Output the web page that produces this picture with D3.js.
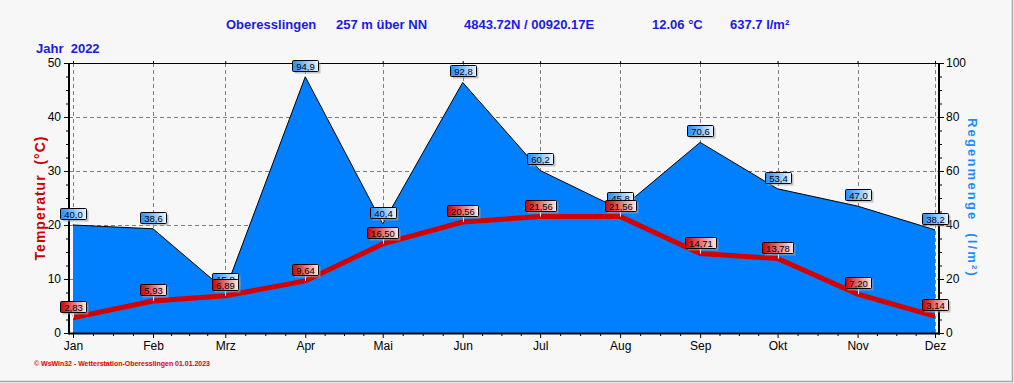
<!DOCTYPE html>
<html>
<head>
<meta charset="utf-8">
<script src="https://cdn.jsdelivr.net/npm/d3@7"></script>
<style>
  body { margin: 0; background: #f7f7f7; }
  svg { display: block; font-family: Arial, "Liberation Sans", sans-serif; }
</style>
</head>
<body>
<div id="chart"></div>
<script>
const months = ['Jan', 'Feb', 'Mrz', 'Apr', 'Mai', 'Jun', 'Jul', 'Aug', 'Sep', 'Okt', 'Nov', 'Dez'];
const rain = [40.0, 38.6, 15.8, 94.9, 40.4, 92.8, 60.2, 45.8, 70.6, 53.4, 47.0, 38.2];
const temp = [2.83, 5.93, 6.89, 9.64, 16.50, 20.56, 21.56, 21.56, 14.71, 13.78, 7.20, 3.14];
const tempTicks = [0, 10, 20, 30, 40, 50];
const rainTicks = [0, 20, 40, 60, 80, 100];
const headerParts = [
  ['Oberesslingen', 226], ['257 m über NN', 336], ['4843.72N / 00920.17E', 464],
  ['12.06 °C', 652], ['637.7 l/m²', 730]
];

const width = 1014, height = 383;
const pLeft = 69, pRight = 939, pTop = 63, pBottom = 333;

const svg = d3.select('#chart').append('svg')
  .attr('width', width).attr('height', height);

svg.append('rect').attr('width', width).attr('height', height).attr('fill', '#f7f7f7');
// outer frame lines (right / bottom)
svg.append('line').attr('x1', 1012.5).attr('x2', 1012.5).attr('y1', 0).attr('y2', 382)
  .attr('stroke', '#a8a8a8').attr('stroke-width', 1.5);
svg.append('line').attr('x1', 0).attr('x2', 1013).attr('y1', 381.5).attr('y2', 381.5)
  .attr('stroke', '#a8a8a8').attr('stroke-width', 1.5);

const dates = months.map((m, i) => new Date(2022, i, 1));
const x = d3.scaleTime().domain([dates[0], dates[11]]).range([73, 935]);
const yT = d3.scaleLinear().domain([0, 50]).range([pBottom, pTop]);
const yR = d3.scaleLinear().domain([0, 100]).range([pBottom, pTop]);

// header
const blue = '#1a1ae6';
svg.append('g').selectAll('text').data(headerParts).join('text')
  .attr('x', d => d[1]).attr('y', 29)
  .attr('font-size', 13).attr('font-weight', 'bold').attr('fill', blue)
  .text(d => d[0]);
svg.append('text').attr('x', 36).attr('y', 53)
  .attr('font-size', 13).attr('font-weight', 'bold').attr('fill', blue)
  .attr('xml:space', 'preserve').text('Jahr  2022');

// grid
const grid = svg.append('g');
grid.selectAll('.hg').data([10, 20, 30, 40]).join('line')
  .attr('x1', pLeft).attr('x2', pRight)
  .attr('y1', d => yT(d) + 0.5).attr('y2', d => yT(d) + 0.5)
  .attr('stroke', '#808080').attr('stroke-dasharray', '4,3');
grid.selectAll('.vg').data(dates).join('line')
  .attr('x1', d => Math.round(x(d)) + 0.5).attr('x2', d => Math.round(x(d)) + 0.5)
  .attr('y1', pTop).attr('y2', pBottom)
  .attr('stroke', '#808080').attr('stroke-dasharray', '4,3');

// rain area
svg.append('path').datum(rain)
  .attr('d', d3.area().x((d, i) => x(dates[i])).y0(pBottom).y1(d => yR(d)))
  .attr('fill', '#0080ff');
svg.append('path').datum(rain)
  .attr('d', d3.line().x((d, i) => x(dates[i])).y(d => yR(d)))
  .attr('fill', 'none').attr('stroke', '#000').attr('stroke-width', 1);

// temperature line
svg.append('path').datum(temp)
  .attr('d', d3.line().x((d, i) => x(dates[i])).y(d => yT(d)))
  .attr('fill', 'none').attr('stroke', '#d40000').attr('stroke-width', 5);

// axes
const minorX = [];
for (let i = 0; i < 11; i++) {
  for (let k = 1; k < 4; k++) minorX.push(new Date(+dates[i] + (dates[i + 1] - dates[i]) * k / 4));
}
const xAxis = svg.append('g').attr('transform', `translate(0,${pBottom})`)
  .call(d3.axisBottom(x).tickValues(dates).tickFormat((d, i) => months[i]).tickSize(5));
xAxis.selectAll('text').attr('y', 17).attr('dy', 0).attr('font-size', 12).attr('fill', '#000');
svg.append('g').attr('transform', `translate(0,${pBottom})`)
  .call(d3.axisBottom(x).tickValues(minorX).tickFormat('').tickSize(3));
svg.append('g').attr('transform', `translate(0,${pTop})`)
  .call(d3.axisTop(x).tickValues(dates).tickFormat('').tickSize(2));

const yAxis = svg.append('g').attr('transform', `translate(${pLeft},0)`)
  .call(d3.axisLeft(yT).tickValues(tempTicks).tickSize(5).tickPadding(3));
yAxis.selectAll('text').attr('font-size', 12).attr('fill', '#000');
svg.append('g').attr('transform', `translate(${pLeft},0)`)
  .call(d3.axisLeft(yT).tickValues(d3.range(0, 50.1, 2.5)).tickFormat('').tickSize(3));

const rAxis = svg.append('g').attr('transform', `translate(${pRight},0)`)
  .call(d3.axisRight(yR).tickValues(rainTicks).tickSize(5).tickPadding(2));
rAxis.selectAll('text').attr('font-size', 12).attr('fill', '#000');
svg.append('g').attr('transform', `translate(${pRight},0)`)
  .call(d3.axisRight(yR).tickValues(d3.range(0, 100.1, 5)).tickFormat('').tickSize(3));

svg.selectAll('.domain').remove();
svg.selectAll('.tick line').attr('stroke', '#000');

// frame
svg.append('line').attr('x1', pLeft).attr('x2', pRight).attr('y1', pTop + 0.5).attr('y2', pTop + 0.5)
  .attr('stroke', '#000');
svg.append('line').attr('x1', pLeft).attr('x2', pRight + 1).attr('y1', pBottom + 0.5).attr('y2', pBottom + 0.5)
  .attr('stroke', '#000').attr('stroke-width', 2);
svg.append('line').attr('x1', pLeft).attr('x2', pLeft).attr('y1', pTop).attr('y2', pBottom + 1.5)
  .attr('stroke', '#000').attr('stroke-width', 2);
svg.append('line').attr('x1', pRight).attr('x2', pRight).attr('y1', pTop).attr('y2', pBottom + 1.5)
  .attr('stroke', '#000').attr('stroke-width', 2);

// axis titles
svg.append('text')
  .attr('transform', `translate(45,${(pTop + pBottom) / 2}) rotate(-90)`)
  .attr('text-anchor', 'middle').attr('font-size', 14).attr('font-weight', 'bold')
  .attr('letter-spacing', 1).attr('fill', '#cc0000')
  .attr('xml:space', 'preserve').text('Temperatur  (°C)');
svg.append('text')
  .attr('transform', `translate(968,${(pTop + pBottom) / 2}) rotate(90)`)
  .attr('text-anchor', 'middle').attr('font-size', 13).attr('font-weight', 'bold')
  .attr('letter-spacing', 2.2).attr('fill', '#1e8cff')
  .attr('xml:space', 'preserve').text('Regenmenge  (l/m²)');

// footer
svg.append('text').attr('x', 34).attr('y', 366)
  .attr('font-size', 7).attr('font-weight', 'bold').attr('fill', '#e00000')
  .attr('textLength', 176).attr('lengthAdjust', 'spacing')
  .text('© WsWin32 - Wetterstation-Oberesslingen  01.01.2023');

// value labels
const defs = svg.append('defs');
function grad(id, c1, c2) {
  const g = defs.append('linearGradient').attr('id', id);
  g.append('stop').attr('offset', '0%').attr('stop-color', c1);
  g.append('stop').attr('offset', '100%').attr('stop-color', c2);
}
grad('gBlue', '#1e8cff', '#eef6ff');
grad('gRed', '#c80000', '#ffeaea');

function labels(values, yScale, fmt, gradId, stem) {
  const g = svg.append('g');
  values.forEach((v, i) => {
    const px = x(dates[i]), py = yScale(v);
    const lg = g.append('g');
    const t = lg.append('text').attr('font-size', 9.5).attr('fill', '#000')
      .attr('text-anchor', 'middle').text(fmt(v));
    const w = Math.round(t.node().getComputedTextLength()) + 7;
    const h = 11;
    const bx = Math.round(px - w / 2) + 0.5, by = Math.round(py - 6 - h) + 0.5;
    if (stem) {
      lg.insert('line', 'text').attr('x1', Math.round(px) + 0.5).attr('x2', Math.round(px) + 0.5)
        .attr('y1', by + h).attr('y2', py).attr('stroke', '#fff');
    }
    lg.insert('rect', 'text').attr('x', bx + 2).attr('y', by + 2).attr('width', w).attr('height', h)
      .attr('fill', '#a0a0a0').attr('opacity', 0.6);
    lg.insert('rect', 'text').attr('x', bx).attr('y', by).attr('width', w).attr('height', h)
      .attr('rx', 1).attr('fill', `url(#${gradId})`).attr('stroke', '#000');
    t.attr('x', bx + w / 2).attr('y', by + 9);
  });
}
const f1 = v => v.toFixed(1).replace('.', ',');
const f2 = v => v.toFixed(2).replace('.', ',');
labels(rain, yR, f1, 'gBlue', false);
labels(temp, yT, f2, 'gRed', true);
</script>
</body>
</html>
